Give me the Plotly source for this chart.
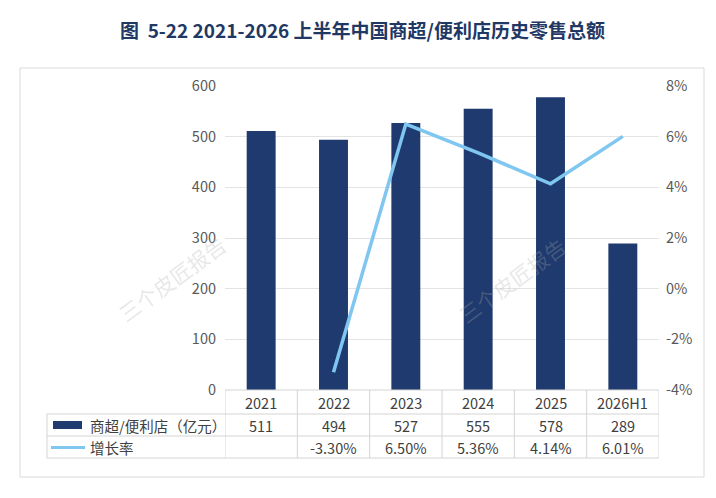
import plotly.graph_objects as go

# data
years = ["2021", "2022", "2023", "2024", "2025", "2026H1"]
sales = [511, 494, 527, 555, 578, 289]                       # 亿元
growth = [None, -0.0330, 0.0650, 0.0536, 0.0414, 0.0601]     # 增长率
left_ticks = [0, 100, 200, 300, 400, 500, 600]
right_ticks = [-0.04, -0.02, 0.0, 0.02, 0.04, 0.06, 0.08]
right_labels = ["-4%", "-2%", "0%", "2%", "4%", "6%", "8%"]
bar_name = "商超/便利店（亿元）"
line_name = "增长率"
title = "图  5-22 2021-2026 上半年中国商超/便利店历史零售总额"

NAVY = "#1f3a6e"
SKY = "#7fc6f0"
GRID = "#e3e3e3"
TABLE = "#d4d4d4"
TXT = "#404040"
FONT = "Noto Sans CJK SC"

# the page body adds an 8px margin, so work in page pixels minus 8
OFF = 8
W, H = 716 - OFF, 498 - OFF
PL, PR, PT, PB = 225 - OFF, 659 - OFF, 86 - OFF, 390 - OFF


def fx(p):
    return (p - OFF - PL) / (PR - PL)


def fy(p):
    return (PB - (p - OFF)) / (PB - PT)


fig = go.Figure()
fig.add_trace(go.Bar(x=years, y=sales, name=bar_name, marker_color=NAVY,
                     marker_line_width=0, width=0.4))
fig.add_trace(go.Scatter(x=years, y=growth, name=line_name, yaxis="y2",
                         mode="lines", line=dict(color=SKY, width=3.5)))

shapes = []
annos = []

# outer frame
shapes.append(dict(type="rect", xref="paper", yref="paper", x0=fx(20), x1=fx(704),
                   y0=fy(477), y1=fy(68), line=dict(color="#dadada", width=1),
                   layer="below"))

# data table lines
n = len(years)
shapes.append(dict(type="line", xref="x", yref="paper", x0=-0.5, x1=n - 0.5,
                   y0=fy(390), y1=fy(390), line=dict(color=TABLE, width=1)))
for yy in [414, 436, 458]:
    shapes.append(dict(type="line", xref="paper", yref="paper", x0=fx(47), x1=1,
                       y0=fy(yy), y1=fy(yy), line=dict(color=TABLE, width=1)))
for i in range(n + 1):
    shapes.append(dict(type="line", xref="x", yref="paper", x0=i - 0.5, x1=i - 0.5,
                       y0=fy(390), y1=fy(458), line=dict(color=TABLE, width=1)))
shapes.append(dict(type="line", xref="paper", yref="paper", x0=fx(47), x1=fx(47),
                   y0=fy(414), y1=fy(458), line=dict(color=TABLE, width=1)))

# legend swatches in table
shapes.append(dict(type="rect", xref="paper", yref="paper", x0=fx(53), x1=fx(82),
                   y0=fy(429), y1=fy(421), fillcolor=NAVY, line=dict(width=0)))
shapes.append(dict(type="line", xref="paper", yref="paper", x0=fx(51), x1=fx(85),
                   y0=fy(447.5), y1=fy(447.5), line=dict(color=SKY, width=3)))
annos.append(dict(text=bar_name, xref="paper", yref="paper", x=fx(88), y=fy(425),
                  xanchor="left", yanchor="middle", showarrow=False,
                  font=dict(size=14.5, color=TXT)))
annos.append(dict(text=line_name, xref="paper", yref="paper", x=fx(88), y=fy(447.5),
                  xanchor="left", yanchor="middle", showarrow=False,
                  font=dict(size=14.5, color=TXT)))

# table cells
for i, (yr, s, g) in enumerate(zip(years, sales, growth)):
    gt = "" if g is None else f"{g * 100:.2f}%"
    for txt, yy in [(yr, 402.5), (str(s), 425), (gt, 447.5)]:
        annos.append(dict(text=txt, xref="x", yref="paper", x=i, y=fy(yy),
                          xanchor="center", yanchor="middle", showarrow=False,
                          font=dict(size=14.5, color=TXT)))

# title
annos.append(dict(text="<b>" + title + "</b>", xref="paper", yref="paper",
                  x=fx(362), y=fy(29), xanchor="center", yanchor="middle",
                  showarrow=False, font=dict(size=19, color="#1f3864")))

# watermarks
for wx, wy in [(109, 331), (575, 332)]:
    annos.append(dict(text="三个皮匠报告", xref="paper", yref="paper", x=fx(wx), y=fy(wy),
                      textangle=-36, showarrow=False,
                      font=dict(size=21, color="rgba(170,170,170,0.28)")))

fig.update_layout(
    width=W, height=H,
    margin=dict(l=PL, r=W - PR, t=PT, b=H - PB),
    paper_bgcolor="white", plot_bgcolor="white",
    font=dict(family=FONT, size=14, color="#595959"),
    showlegend=False,
    shapes=shapes,
    annotations=annos,
    xaxis=dict(type="category", range=[-0.5, n - 0.5], showticklabels=False,
               showgrid=False, zeroline=False, showline=False, fixedrange=True),
    yaxis=dict(range=[0, 600], tickvals=left_ticks, gridcolor=GRID, gridwidth=1,
               zeroline=False, showline=False, ticklabelstandoff=8,
               tickfont=dict(size=14.5, color="#595959")),
    yaxis2=dict(range=[-0.04, 0.08], overlaying="y", side="right",
                tickvals=right_ticks, ticktext=right_labels, showgrid=False,
                zeroline=False, showline=False, ticklabelstandoff=6,
                tickfont=dict(size=14.5, color="#595959")),
)

fig.write_html("out.html")
